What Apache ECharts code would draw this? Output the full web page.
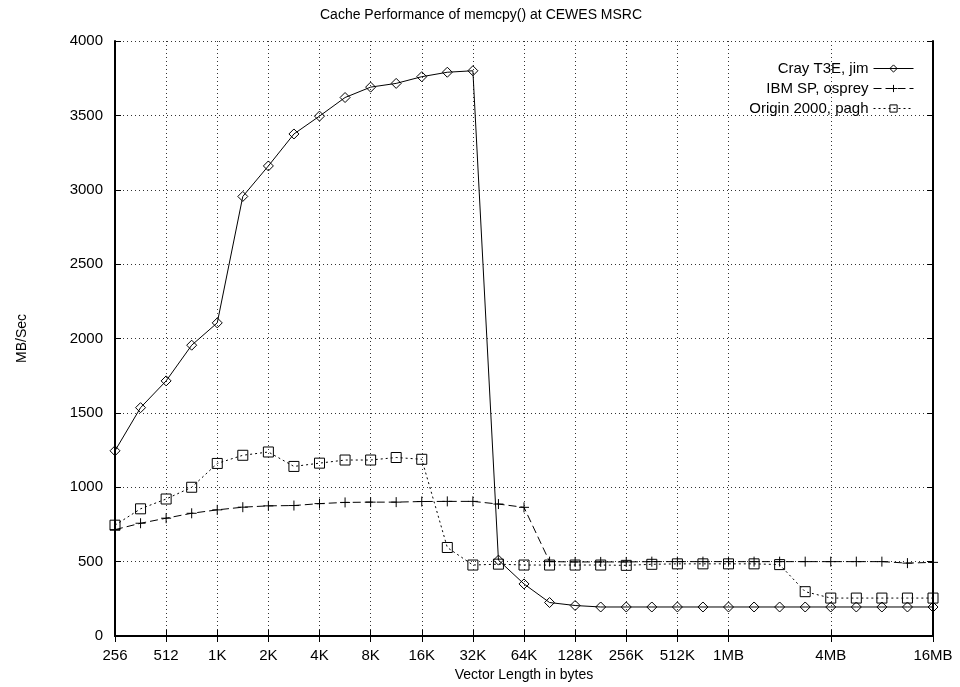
<!DOCTYPE html>
<html>
<head>
<meta charset="utf-8">
<title>Cache Performance of memcpy()</title>
<script src="https://cdn.jsdelivr.net/npm/echarts@6/dist/echarts.min.js"></script>
<style>
  html, body { margin: 0; background: #fff; }
  #chart { width: 960px; height: 687px; }
</style>
</head>
<body>
<div id="chart"></div>
<script>
// vector lengths in bytes (half-octave steps)
const vectorBytes = [
  256, 362, 512, 724, 1024, 1448, 2048, 2896, 4096, 5793, 8192, 11585,
  16384, 23170, 32768, 46341, 65536, 92682, 131072, 185364, 262144, 370728,
  524288, 741455, 1048576, 1482910, 2097152, 2965821, 4194304, 5931642,
  8388608, 11863283, 16777216
];

// MB/Sec
const crayT3E = [
  1245, 1535, 1715, 1955, 2105, 2955, 3160, 3375, 3495, 3620, 3690, 3715,
  3760, 3790, 3800, 510, 350, 225, 205, 195, 195, 195,
  195, 195, 195, 195, 195, 195, 195, 195,
  195, 195, 195
];
const ibmSP = [
  715, 758, 792, 825, 848, 866, 875, 877, 890, 898, 900, 900,
  904, 905, 905, 887, 865, 500, 498, 498, 498, 500,
  500, 500, 500, 500, 500, 500, 500, 500,
  500, 490, 495
];
const origin2000 = [
  745, 855, 921, 1000, 1160, 1215, 1237, 1140, 1162, 1183, 1183, 1200,
  1188, 595, 477, 483, 477, 477, 477, 477, 475, 482,
  485, 485, 485, 485, 480, 298, 255, 255,
  255, 255, 255
];

const tickBytes = [256, 512, 1024, 2048, 4096, 8192, 16384, 32768, 65536,
  131072, 262144, 524288, 1048576, 4194304, 16777216];
const tickLabels = ['256', '512', '1K', '2K', '4K', '8K', '16K', '32K', '64K',
  '128K', '256K', '512K', '1MB', '4MB', '16MB'];

const FONT = 'Liberation Sans, Arial, sans-serif';
const tickPos = tickBytes.map(b => Math.log2(b));
const toPairs = vals => vectorBytes.map((b, i) => [Math.log2(b), vals[i]]);

const chart = echarts.init(document.getElementById('chart'), null, { renderer: 'canvas' });

const frameLine = { show: true, lineStyle: { color: '#000', width: 2 } };
const dotted = { show: true, lineStyle: { color: '#333', width: 1, type: [1, 3] } };
const hollow = { color: 'rgba(0,0,0,0)', borderColor: '#000', borderWidth: 1 };

const option = {
  animation: false,
  backgroundColor: '#fff',
  title: {
    text: 'Cache Performance of memcpy() at CEWES MSRC',
    left: 315,
    top: 3,
    textStyle: { fontFamily: FONT, fontSize: 14, fontWeight: 'normal', color: '#000' }
  },
  legend: {
    orient: 'vertical',
    right: 46,
    top: 61,
    align: 'right',
    itemWidth: 40,
    itemHeight: 9,
    itemGap: 5,
    padding: 0,
    itemStyle: { borderWidth: 1, color: 'rgba(0,0,0,0)', borderColor: '#000' },
    lineStyle: { width: 1 },
    textStyle: { fontFamily: FONT, fontSize: 15, color: '#000', lineHeight: 14 },
    data: ['Cray T3E, jim', 'IBM SP, osprey', 'Origin 2000, pagh']
  },
  grid: { left: 115, right: 27, top: 41, bottom: 50 },
  xAxis: [
    {
      type: 'value',
      position: 'bottom',
      min: 8,
      max: 24,
      name: 'Vector Length in bytes',
      nameLocation: 'middle',
      nameGap: 32,
      nameTextStyle: { fontFamily: FONT, fontSize: 14, color: '#000' },
      axisLine: frameLine,
      axisTick: { show: true, inside: true, length: 6, customValues: tickPos, lineStyle: { color: '#000' } },
      axisLabel: {
        customValues: tickPos,
        margin: 12,
        fontFamily: FONT, fontSize: 15, color: '#000',
        formatter: v => {
          const i = tickPos.findIndex(p => Math.abs(p - v) < 1e-6);
          return i >= 0 ? tickLabels[i] : '';
        }
      },
      splitLine: dotted
    },
    {
      type: 'value',
      position: 'top',
      min: 8,
      max: 24,
      axisLine: frameLine,
      axisTick: { show: true, inside: true, length: 6, customValues: tickPos, lineStyle: { color: '#000' } },
      axisLabel: { show: false },
      splitLine: { show: false }
    }
  ],
  yAxis: [
    {
      type: 'value',
      position: 'left',
      min: 0,
      max: 4000,
      interval: 500,
      name: 'MB/Sec',
      nameLocation: 'middle',
      nameGap: 86,
      nameTextStyle: { fontFamily: FONT, fontSize: 14, color: '#000' },
      axisLine: frameLine,
      axisTick: { show: true, inside: true, length: 6, lineStyle: { color: '#000' } },
      axisLabel: { margin: 12, fontFamily: FONT, fontSize: 15, color: '#000', formatter: v => String(v) },
      splitLine: dotted
    },
    {
      type: 'value',
      position: 'right',
      min: 0,
      max: 4000,
      interval: 500,
      axisLine: frameLine,
      axisTick: { show: true, inside: true, length: 6, lineStyle: { color: '#000' } },
      axisLabel: { show: false },
      splitLine: { show: false }
    }
  ],
  series: [
    {
      name: 'Cray T3E, jim',
      type: 'line',
      data: toPairs(crayT3E),
      symbol: 'diamond',
      symbolSize: 10,
      showAllSymbol: true,
      lineStyle: { color: '#000', width: 1, type: 'solid' },
      itemStyle: hollow,
      z: 3
    },
    {
      name: 'IBM SP, osprey',
      type: 'line',
      data: toPairs(ibmSP),
      symbol: 'path://M0,5L10,5M5,0L5,10',
      symbolSize: 10,
      showAllSymbol: true,
      lineStyle: { color: '#000', width: 1, type: [8, 4] },
      itemStyle: hollow,
      z: 2
    },
    {
      name: 'Origin 2000, pagh',
      type: 'line',
      data: toPairs(origin2000),
      symbol: 'rect',
      symbolSize: 10,
      showAllSymbol: true,
      lineStyle: { color: '#000', width: 1, type: [2, 3] },
      itemStyle: hollow,
      z: 2
    }
  ]
};

chart.setOption(option);
</script>
</body>
</html>
